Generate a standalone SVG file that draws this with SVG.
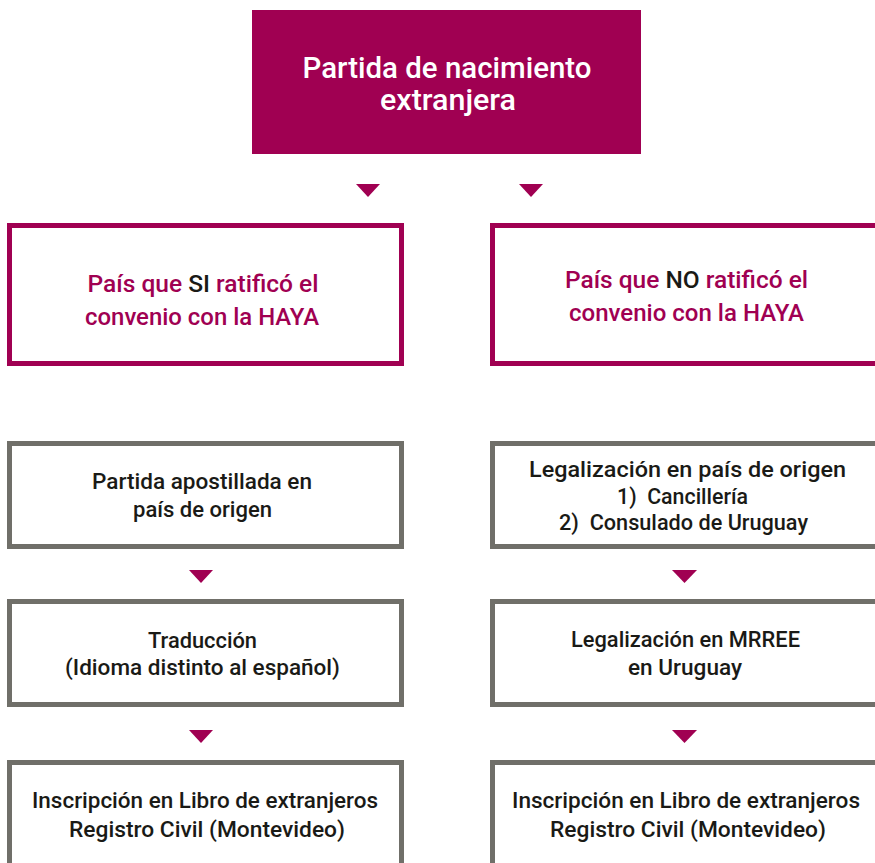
<svg xmlns="http://www.w3.org/2000/svg" width="875" height="863" viewBox="0 0 875 863">
<style>
.bg{fill:#ffffff}
.top{fill:#A00052}
.mbox{fill:#ffffff;stroke:#A00052;stroke-width:5}
.gbox{fill:#ffffff;stroke:#706F69;stroke-width:5}
.arr{fill:#A00052}
text{font-family:Roboto,"Noto Sans",sans-serif;text-anchor:middle}
.tt{fill:#ffffff;font-size:30px;font-weight:500}
.mt{fill:#A00052;font-size:24px;font-weight:500}
.blk{fill:#1A1A16}
.gt{fill:#1A1A16;font-size:22px;font-weight:500}
</style>
<rect class="bg" x="0" y="0" width="875" height="863"/>
<g id="connectors">
<polygon class="arr" points="356,184 380,184 368,197"/>
<polygon class="arr" points="519,184 543,184 531,197"/>
<polygon class="arr" points="189,570 213,570 201,583"/>
<polygon class="arr" points="672,570 697,570 684.5,583"/>
<polygon class="arr" points="189,730 213,730 201,743"/>
<polygon class="arr" points="672,730 697,730 684.5,743"/>
</g>
<g id="n-top">
<rect class="top" x="252" y="10" width="389" height="144"/>
<text class="tt" x="447" y="78" textLength="289" lengthAdjust="spacingAndGlyphs">Partida de nacimiento</text>
<text class="tt" x="448" y="110" textLength="136" lengthAdjust="spacingAndGlyphs">extranjera</text>
</g>
<g id="n-si">
<rect class="mbox" x="9.5" y="225.5" width="392" height="138"/>
<text class="mt" x="203" y="292" textLength="231" lengthAdjust="spacingAndGlyphs">País que <tspan class="blk">SI</tspan> ratificó el</text>
<text class="mt" x="202" y="325" textLength="234" lengthAdjust="spacingAndGlyphs">convenio con la HAYA</text>
</g>
<g id="n-no">
<rect class="mbox" x="492.5" y="225.5" width="392" height="138"/>
<text class="mt" x="686.5" y="288" textLength="243" lengthAdjust="spacingAndGlyphs">País que <tspan class="blk">NO</tspan> ratificó el</text>
<text class="mt" x="686.5" y="321" textLength="235" lengthAdjust="spacingAndGlyphs">convenio con la HAYA</text>
</g>
<g id="n-apost">
<rect class="gbox" x="9.5" y="443.5" width="392" height="103"/>
<text class="gt" x="202" y="489" textLength="220" lengthAdjust="spacingAndGlyphs">Partida apostillada en</text>
<text class="gt" x="202.5" y="517" textLength="139" lengthAdjust="spacingAndGlyphs">país de origen</text>
</g>
<g id="n-legal-origen">
<rect class="gbox" x="492.5" y="443.5" width="392" height="103"/>
<text class="gt" x="687.5" y="477" textLength="317" lengthAdjust="spacingAndGlyphs">Legalización en país de origen</text>
<text class="gt" x="682.5" y="503.5" textLength="131" lengthAdjust="spacingAndGlyphs" xml:space="preserve">1)  Cancillería</text>
<text class="gt" x="683.5" y="530" textLength="249" lengthAdjust="spacingAndGlyphs" xml:space="preserve">2)  Consulado de Uruguay</text>
</g>
<g id="n-traduccion">
<rect class="gbox" x="9.5" y="601.5" width="392" height="103"/>
<text class="gt" x="202.5" y="648" textLength="109" lengthAdjust="spacingAndGlyphs">Traducción</text>
<text class="gt" x="202.5" y="675" textLength="275" lengthAdjust="spacingAndGlyphs">(Idioma distinto al español)</text>
</g>
<g id="n-mrree">
<rect class="gbox" x="492.5" y="601.5" width="392" height="103"/>
<text class="gt" x="685.5" y="647" textLength="229" lengthAdjust="spacingAndGlyphs">Legalización en MRREE</text>
<text class="gt" x="685" y="675" textLength="114" lengthAdjust="spacingAndGlyphs">en Uruguay</text>
</g>
<g id="n-inscr-si">
<rect class="gbox" x="9.5" y="762.5" width="392" height="120"/>
<text class="gt" x="205" y="808" textLength="346" lengthAdjust="spacingAndGlyphs">Inscripción en Libro de extranjeros</text>
<text class="gt" x="207" y="837" textLength="276" lengthAdjust="spacingAndGlyphs">Registro Civil (Montevideo)</text>
</g>
<g id="n-inscr-no">
<rect class="gbox" x="492.5" y="762.5" width="392" height="120"/>
<text class="gt" x="686" y="808" textLength="348" lengthAdjust="spacingAndGlyphs">Inscripción en Libro de extranjeros</text>
<text class="gt" x="688" y="837" textLength="276" lengthAdjust="spacingAndGlyphs">Registro Civil (Montevideo)</text>
</g>
</svg>
